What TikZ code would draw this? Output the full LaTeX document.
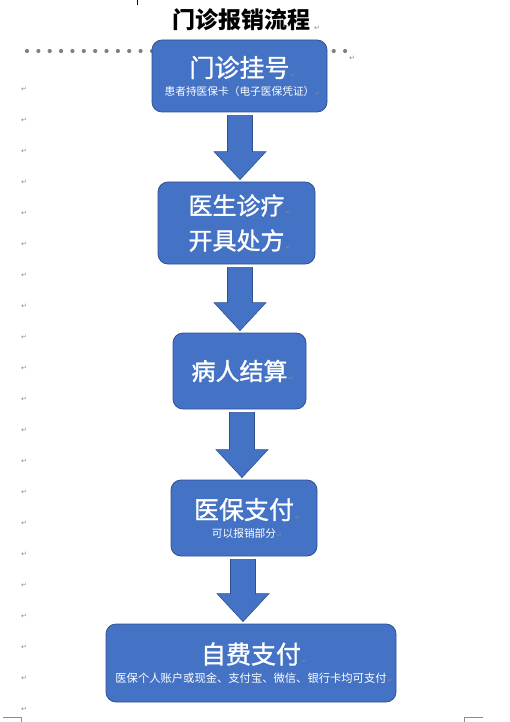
\documentclass[tikz,border=0pt]{standalone}
\usepackage{fontspec}
\newfontfamily\cjk{Noto Sans CJK SC}
\newfontfamily\cjkmain[FakeBold=1.2]{Noto Sans CJK SC}
\newfontfamily\symfont{DejaVu Sans}
\usetikzlibrary{calc}

\definecolor{boxblue}{HTML}{4472C4}
\definecolor{boxedge}{HTML}{2F528F}
\definecolor{markgray}{HTML}{8C8C8C}
\definecolor{dotgray}{HTML}{808080}

% small paragraph mark, as Word shows it
\newcommand{\parmark}{\rlap{\symfont\fontsize{6}{6}\selectfont\color{markgray}\,↵}}
% block arrow from one box down to the next
\newcommand{\blockarrow}[3]{%
  \draw[blockarr] let \p1=($(#1.south)+(#3,0)$), \p2=(#2.north) in
    (\x1-12.5,\y1-3) -- (\x1+12.5,\y1-3) -- (\x1+12.5,\y2+30) -- (\x1+26,\y2+30)
    -- (\x1,\y2+2) -- (\x1-26,\y2+30) -- (\x1-12.5,\y2+30) -- cycle;
}

\tikzset{
  stepbox/.style={draw=boxedge, line width=0.8pt, fill=boxblue, rounded corners=10pt,
    text=white, align=center, inner sep=0pt, font=\cjkmain},
  blockarr/.style={draw=boxedge, line width=0.6pt, fill=boxblue},
  retmark/.style={text=markgray, font=\symfont\fontsize{7}{7}\selectfont, inner sep=0pt},
}

\begin{document}
\begin{tikzpicture}[x=1pt, y=-1pt]
\useasboundingbox (0,0) rectangle (509,722);

% page marks
\draw[black, line width=1pt] (137,0) -- (137,5);
\draw[markgray, line width=0.5pt] (3,717.5) -- (21.5,717.5) -- (21.5,722);
\draw[markgray, line width=0.5pt] (483,717.5) -- (464.5,717.5) -- (464.5,722);
\foreach \k in {0,...,20}
  \node[retmark] (ret\k) at (24,89+31*\k) {↵};
\node[retmark] (retdots) at (352,58) {↵};

% title
\node[font=\cjk\bfseries\fontsize{23}{23}\selectfont, inner sep=0pt] (title) at (241,20) {门诊报销流程};
\node[retmark] (rettitle) at (317,28) {↵};

% dotted rule behind the first box
\foreach \i in {0,...,28}
  \fill[dotgray] (27+11.36*\i,51) circle (2.1);

% boxes
\node[stepbox, minimum width=175pt, minimum height=72pt] (reg) at (239.5,76)
  {{\fontsize{25}{25}\selectfont 门诊挂号\parmark}\\[6pt]
   {\cjk\fontsize{10.7}{11}\selectfont 患者持医保卡（电子医保凭证）\parmark}};
\node[stepbox, minimum width=157pt, minimum height=82pt, font=\cjkmain\fontsize{24}{35}\selectfont] (doc) at (236.5,223)
  {医生诊疗\parmark\\开具处方\parmark};
\node[stepbox, minimum width=133pt, minimum height=76pt, font=\cjkmain\fontsize{24}{24}\selectfont] (pay) at (239.5,371)
  {病人结算\parmark};
\node[stepbox, minimum width=146pt, minimum height=76pt] (ins) at (244,518)
  {{\fontsize{25}{25}\selectfont 医保支付\parmark}\\[6pt]
   {\cjk\fontsize{10.7}{11}\selectfont 可以报销部分\parmark}};
\node[stepbox, minimum width=290pt, minimum height=78pt] (self) at (251,663)
  {{\fontsize{25}{25}\selectfont 自费支付\parmark}\\[7pt]
   {\cjk\fontsize{11.3}{12}\selectfont 医保个人账户或现金、支付宝、微信、银行卡均可支付\parmark}};

% arrows
\blockarrow{reg}{doc}{0.5}
\blockarrow{doc}{pay}{3.5}
\blockarrow{pay}{ins}{2.5}
\blockarrow{ins}{self}{-1}
\end{tikzpicture}
\end{document}
